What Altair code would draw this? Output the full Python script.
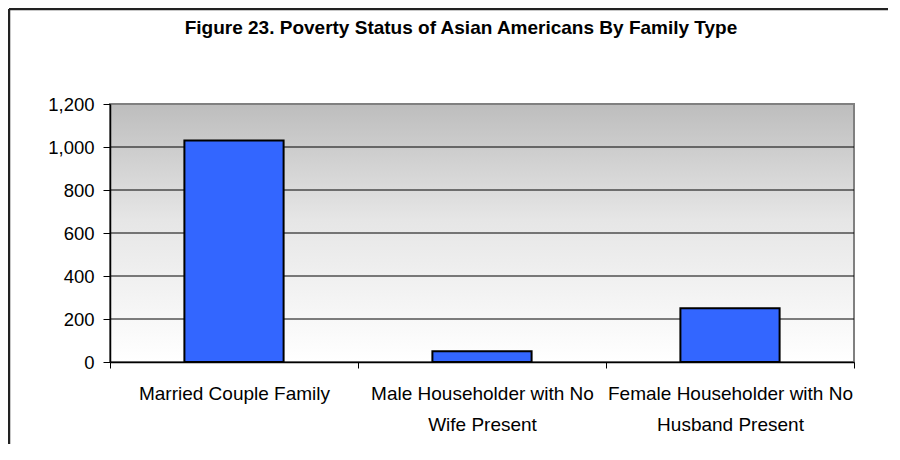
import json
import altair as alt
import pandas as pd

# ---- data ----
categories = [
    "Married Couple Family",
    "Male Householder with No Wife Present",
    "Female Householder with No Husband Present",
]
label_lines = [
    ["Married Couple Family"],
    ["Male Householder with No", "Wife Present"],
    ["Female Householder with No", "Husband Present"],
]
values = [1030, 50, 250]
y_ticks = [0, 200, 400, 600, 800, 1000, 1200]
grid_values = [200, 400, 600, 800, 1000]
title_text = "Figure 23. Poverty Status of Asian Americans By Family Type"

W, H = 744, 258
PAD = {"left": 102, "top": 96, "right": 34, "bottom": 82}
FONT = "Liberation Sans"

df = pd.DataFrame({"category": categories, "value": values})

# label expression producing multi-line labels
expr = "''"
for cat, lines in reversed(list(zip(categories, label_lines))):
    expr = f"datum.value == {json.dumps(cat)} ? {json.dumps(lines)} : ({expr})"

x_enc = alt.X(
    "category:N",
    sort=categories,
    scale=alt.Scale(paddingInner=0, paddingOuter=0),
    axis=alt.Axis(
        title=None,
        labelAngle=0,
        labelExpr=expr,
        labelFont=FONT,
        labelFontSize=19,
        labelColor="black",
        labelBaseline="top",
        labelLineHeight=31,
        labelPadding=16,
        labelLimit=0,
        tickBand="extent",
        tickSize=6,
        tickColor="black",
        domainColor="black",
        domainWidth=1.5,
        zindex=1,
    ),
)
y_scale = alt.Scale(domain=[0, 1200], nice=False)

gradient = alt.LinearGradient(
    gradient="linear",
    stops=[
        alt.GradientStop(color="#bdbdbd", offset=0),
        alt.GradientStop(color="#e6e6e6", offset=0.45),
        alt.GradientStop(color="#ffffff", offset=1),
    ],
    x1=0, x2=0, y1=0, y2=1,
)

one = alt.Data(values=[{}])

background = alt.Chart(one).mark_rect(
    fill=gradient, stroke="#808080", strokeWidth=2
).encode(
    x=alt.value(0), x2=alt.value(W),
    y=alt.datum(1200, scale=y_scale), y2=alt.datum(0),
)

grid = alt.Chart(pd.DataFrame({"g": grid_values})).mark_rule(
    color="black", strokeWidth=1
).encode(
    y=alt.Y("g:Q", scale=y_scale),
    x=alt.value(0), x2=alt.value(W),
)

bars = alt.Chart(df).mark_bar(
    width=alt.RelativeBandSize(0.4),
    fill="#3366ff", stroke="black", strokeWidth=2,
).encode(
    x=x_enc,
    y=alt.Y(
        "value:Q",
        scale=y_scale,
        axis=alt.Axis(
            title=None,
            values=y_ticks,
            format=",d",
            grid=False,
            labelFont=FONT,
            labelFontSize=18.5,
            labelColor="black",
            labelPadding=9,
            tickSize=7,
            tickColor="black",
            domainColor="black",
            domainWidth=1.5,
            zindex=1,
        ),
    ),
)

title = alt.Chart(one).mark_text(
    text=title_text,
    font=FONT,
    fontSize=19,
    fontWeight="bold",
    color="black",
    align="center",
    baseline="alphabetic",
).encode(x=alt.value(W / 2 - 21), y=alt.value(-70))

frame_top = alt.Chart(one).mark_rule(color="#222222", strokeWidth=2.5).encode(
    x=alt.value(-101), x2=alt.value(W + PAD["right"]), y=alt.value(-95)
)
frame_left = alt.Chart(one).mark_rule(color="#222222", strokeWidth=2.5).encode(
    x=alt.value(-101), y=alt.value(-95), y2=alt.value(H + PAD["bottom"])
)

chart = (
    alt.layer(background, grid, bars, title, frame_top, frame_left)
    .properties(
        width=W,
        height=H,
        autosize=alt.AutoSizeParams(type="none"),
        padding=PAD,
    )
    .configure_view(stroke=None)
    .configure(background="white")
)

chart.save("out.html", embed_options={"renderer": "svg", "actions": False})
